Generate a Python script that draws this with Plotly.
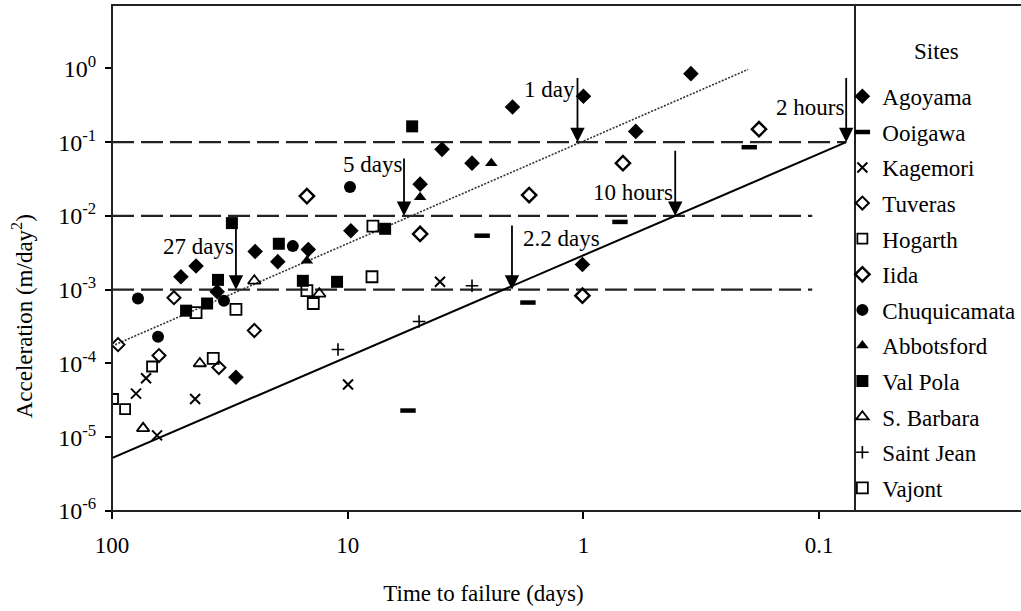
import numpy as np
import plotly.graph_objects as go

# ---------------- data (time to failure in days, acceleration in m/day^2) ----------------
sites = ["Agoyama", "Ooigawa", "Kagemori", "Tuveras", "Hogarth", "Iida",
         "Chuquicamata", "Abbotsford", "Val Pola", "S. Barbara", "Saint Jean", "Vajont"]

agoyama_t = [2.0, 1.0, 0.35, 0.6, 2.97, 3.98, 4.93, 9.7, 14.7, 19.8, 24.7, 44, 51, 35.8, 29.8, 1.01]
agoyama_a = [0.30, 0.42, 0.85, 0.14, 0.052, 0.080, 0.027, 0.0063, 0.0035, 0.0024, 0.0033,
             0.0021, 0.0015, 0.00094, 6.5e-5, 0.0022]

ooigawa_t = [0.198, 0.70, 2.69, 1.72, 5.55]
ooigawa_a = [0.0855, 0.0083, 0.0054, 0.00067, 2.3e-5]

kagemori_t = [4.06, 9.97, 44.4, 71.7, 79.1, 64.4]
kagemori_a = [0.00128, 5.2e-5, 3.3e-5, 6.3e-5, 3.9e-5, 1.06e-5]

tuveras_t = [94.3, 63.2, 54.6, 35.2, 24.9]
tuveras_a = [1.8e-4, 1.28e-4, 7.8e-4, 8.8e-5, 2.8e-4]

hogarth_t = [99, 88, 67.6]
hogarth_a = [3.3e-5, 2.4e-5, 9.1e-5]

iida_t = [14.9, 4.93, 1.70, 0.68, 1.01, 0.18]
iida_a = [0.0186, 0.0057, 0.0192, 0.052, 8.3e-4, 0.15]

chuqui_t = [77.6, 63.8, 33.5, 17.1, 9.78]
chuqui_a = [7.6e-4, 2.3e-4, 7.1e-4, 0.0039, 0.0247]

abbots_t = [2.46, 4.93, 14.9]
abbots_a = [0.052, 0.018, 0.00247]

valpola_t = [5.33, 6.94, 31, 19.6, 35.5, 15.5, 11.1, 39.5, 48.5]
valpola_a = [0.164, 0.0067, 0.0080, 0.0042, 0.00136, 0.00132, 0.00128, 6.5e-4, 5.2e-4]

sbarbara_t = [24.9, 13.2, 42.4, 73.8]
sbarbara_a = [0.00132, 8.8e-4, 1.0e-4, 1.32e-5]

stjean_t = [2.97, 4.98, 11.0]
stjean_a = [0.00113, 3.7e-4, 1.55e-4]

vajont_t = [37.2, 44, 29.8, 14.9, 14.0, 7.89, 7.82]
vajont_a = [1.17e-4, 4.9e-4, 5.4e-4, 9.7e-4, 6.5e-4, 0.0015, 0.0073]

# trend lines and thresholds
dotted_t = [97, 0.2]
dotted_a = [1.8e-4, 0.97]
solid_t = [100, 0.0768]
solid_a = [5.2e-6, 0.1]
thr_levels = [0.1, 0.01, 0.001]
thr_t_start = [100, 100, 100]
thr_t_end = [0.0768, 0.107, 0.107]

# arrows: label, time, tail acceleration, head acceleration, label acceleration
arrow_labels = ["27 days", "5 days", "1 day", "2 hours", "10 hours", "2.2 days"]
arrow_t = [29.8, 5.77, 1.06, 0.0768, 0.408, 2.01]
arrow_tail_a = [0.0086, 0.063, 0.78, 0.78, 0.080, 0.0078]
arrow_head_a = [0.001, 0.01, 0.1, 0.1, 0.01, 0.001]
label_a = [0.0038, 0.050, 0.52, 0.297, 0.0211, 0.00489]
label_side = ["left", "left", "left", "left", "left", "right"]

# axis ticks and titles
x_tickvals = [100, 10, 1, 0.1]
x_ticktext = ["100", "10", "1", "0.1"]
y_tickvals = [1, 0.1, 0.01, 0.001, 1e-4, 1e-5, 1e-6]
y_ticktext = ["10<sup>0</sup>", "10<sup>-1</sup>", "10<sup>-2</sup>", "10<sup>-3</sup>",
              "10<sup>-4</sup>", "10<sup>-5</sup>", "10<sup>-6</sup>"]
x_title = "Time to failure (days)"
y_title = "Acceleration (m/day<sup>2</sup>)"
legend_title = "Sites"

# ---------------- styles ----------------
FONT = "Liberation Serif, Times New Roman, serif"
FS = 23
BLK = "black"

series = [
    (agoyama_t, agoyama_a, dict(symbol="diamond", size=12, color=BLK)),
    (ooigawa_t, ooigawa_a, dict(symbol="line-ew", size=11, color=BLK, line=dict(width=4.5, color=BLK))),
    (kagemori_t, kagemori_a, dict(symbol="x-thin", size=10, color=BLK, line=dict(width=2, color=BLK))),
    (tuveras_t, tuveras_a, dict(symbol="diamond-open", size=10, color=BLK, line=dict(width=2, color=BLK))),
    (hogarth_t, hogarth_a, dict(symbol="square-open", size=10, color=BLK, line=dict(width=1.8, color=BLK))),
    (iida_t, iida_a, dict(symbol="diamond-open", size=11, color=BLK, line=dict(width=2.4, color=BLK))),
    (chuqui_t, chuqui_a, dict(symbol="circle", size=12, color=BLK)),
    (abbots_t, abbots_a, dict(symbol="triangle-up", size=11, color=BLK)),
    (valpola_t, valpola_a, dict(symbol="square", size=12, color=BLK)),
    (sbarbara_t, sbarbara_a, dict(symbol="triangle-up-open", size=11, color=BLK, line=dict(width=1.8, color=BLK))),
    (stjean_t, stjean_a, dict(symbol="cross-thin", size=9, color=BLK, line=dict(width=1.6, color=BLK))),
    (vajont_t, vajont_a, dict(symbol="square-open", size=11, color=BLK, line=dict(width=1.8, color=BLK))),
]

fig = go.Figure()

# threshold dashed lines
for lvl, t0, t1 in zip(thr_levels, thr_t_start, thr_t_end):
    fig.add_trace(go.Scatter(x=[t0, t1], y=[lvl, lvl], mode="lines", showlegend=False,
                             hoverinfo="skip",
                             line=dict(color="#222", width=2.2, dash="22px,7px")))

# dotted trend
fig.add_trace(go.Scatter(x=dotted_t, y=dotted_a, mode="lines", showlegend=False, hoverinfo="skip",
                         line=dict(color="#333", width=1.6, dash="2px,1.5px")))
# solid trend
fig.add_trace(go.Scatter(x=solid_t, y=solid_a, mode="lines", showlegend=False, hoverinfo="skip",
                         line=dict(color=BLK, width=2)))

for name, (tx, ay, mk) in zip(sites, series):
    fig.add_trace(go.Scatter(x=tx, y=ay, mode="markers", name=name, legendgroup=name,
                             marker=mk))

# arrows and labels
for lab, t, ta, ha, la, side in zip(arrow_labels, arrow_t, arrow_tail_a, arrow_head_a, label_a, label_side):
    lx, lh, lt = np.log10(t), np.log10(ha), np.log10(ta)
    fig.add_annotation(x=lx, y=lh, ax=lx, ay=lt, xref="x", yref="y", axref="x", ayref="y",
                       text="", showarrow=True, arrowhead=2, arrowsize=1.6, arrowwidth=1.8,
                       arrowcolor=BLK)
    fig.add_annotation(x=lx, y=np.log10(la), xref="x", yref="y", text=lab, showarrow=False,
                       xanchor="right" if side == "left" else "left",
                       xshift=0 if side == "left" else 9,
                       font=dict(family=FONT, size=FS, color=BLK))

# y axis title and legend title as free text
fig.add_annotation(x=-0.121, y=0.385, xref="paper", yref="paper", text=y_title, textangle=-90,
                   showarrow=False, xanchor="center", yanchor="middle",
                   font=dict(family=FONT, size=FS, color=BLK))
fig.add_annotation(x=1.11, y=0.909, xref="paper", yref="paper", text=legend_title,
                   showarrow=False, xanchor="center", yanchor="middle",
                   font=dict(family=FONT, size=FS, color=BLK))

# frame: outer box extending under the legend, plus divider line
fig.add_shape(type="rect", xref="paper", yref="paper", x0=0, x1=1.3, y0=0, y1=1,
              line=dict(color="#222", width=2))
fig.add_shape(type="line", xref="paper", yref="paper", x0=1, x1=1, y0=0, y1=1,
              line=dict(color="#222", width=2))

fig.update_layout(
    width=1021, height=611,
    margin=dict(l=112, r=166, t=5, b=100, autoexpand=False),
    paper_bgcolor="white", plot_bgcolor="white",
    font=dict(family=FONT, size=FS, color=BLK),
    showlegend=True,
    legend=dict(x=0.983, xanchor="left", y=0.862, yanchor="top",
                font=dict(family=FONT, size=FS, color=BLK),
                tracegroupgap=2.7, bgcolor="rgba(0,0,0,0)", itemwidth=30),
    xaxis=dict(type="log", range=[2, -1.152], showgrid=False, zeroline=False,
               tickvals=x_tickvals, ticktext=x_ticktext, ticks="outside", ticklen=7,
               tickwidth=1.5, tickcolor=BLK, ticklabelstandoff=6,
               tickfont=dict(family=FONT, size=FS, color=BLK),
               title=dict(text=x_title, standoff=28,
                          font=dict(family=FONT, size=FS, color=BLK))),
    yaxis=dict(type="log", range=[-6, 0.86], showgrid=False, zeroline=False,
               tickvals=y_tickvals, ticktext=y_ticktext, ticks="outside", ticklen=6,
               tickwidth=1.5, tickcolor=BLK, ticklabelstandoff=4,
               tickfont=dict(family=FONT, size=24, color=BLK)),
)

fig.write_html("out.html", config={"displayModeBar": False},
               post_script="document.body.style.margin='0';document.body.style.padding='0';")
